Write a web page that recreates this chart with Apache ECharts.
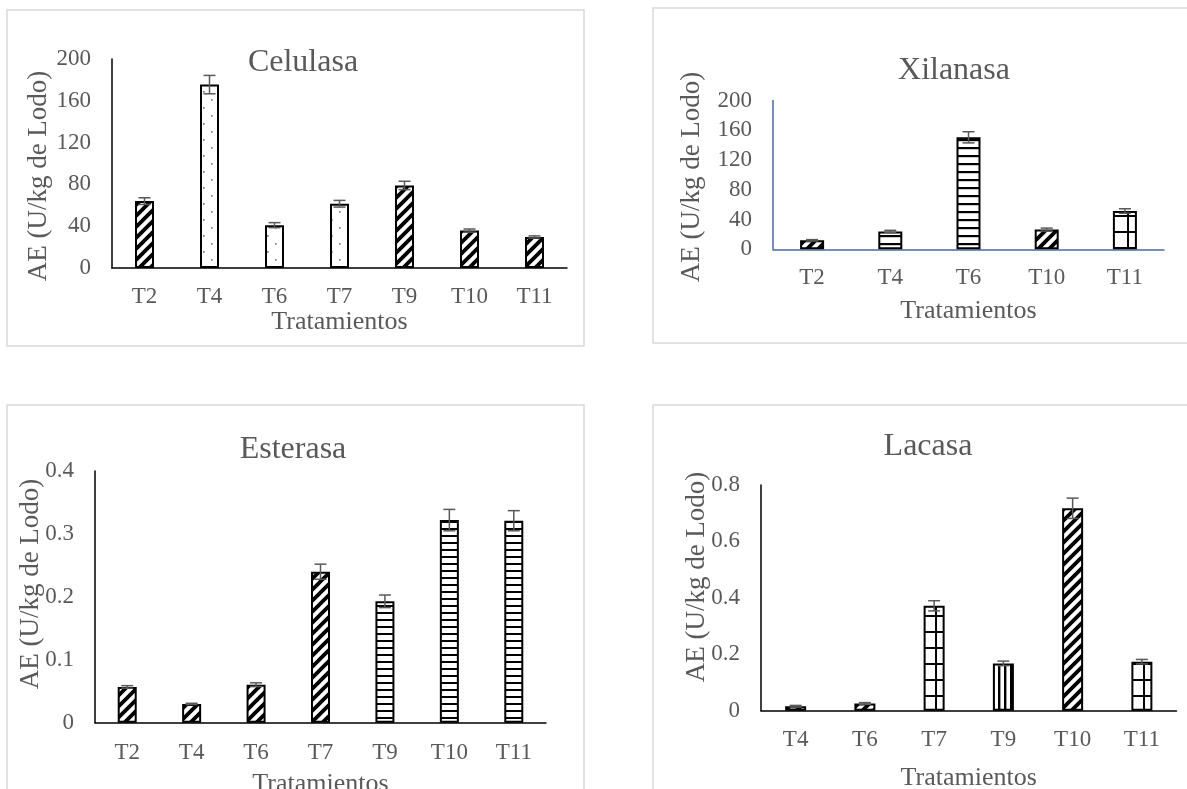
<!DOCTYPE html>
<html>
<head>
<meta charset="utf-8">
<script src="https://cdn.jsdelivr.net/npm/echarts@6/dist/echarts.min.js"></script>
<style>
  html, body { margin: 0; padding: 0; background: #ffffff; }
  #chart { width: 1187px; height: 789px; }
</style>
</head>
<body>
<div id="chart"></div>
<script>
// ---- Celulasa ----
const celCats = ['T2', 'T4', 'T6', 'T7', 'T9', 'T10', 'T11'];
const celVals = [64, 175.5, 41, 61.5, 79, 35.8, 29.7];
const celErr  = [3.2, 8.8, 2.4, 3.2, 4, 1.5, 1];
const celTicks = [0, 40, 80, 120, 160, 200];

// ---- Xilanasa ----
const xilCats = ['T2', 'T4', 'T6', 'T10', 'T11'];
const xilVals = [12, 24, 150.5, 26.5, 51.5];
const xilErr  = [1, 1.5, 7.5, 2, 3];
const xilTicks = [0, 40, 80, 120, 160, 200];

// ---- Esterasa ----
const estCats = ['T2', 'T4', 'T6', 'T7', 'T9', 'T10', 'T11'];
const estVals = [0.057, 0.030, 0.0605, 0.240, 0.193, 0.322, 0.321];
const estErr  = [0.002, 0.001, 0.003, 0.012, 0.010, 0.017, 0.016];
const estTicks = [0, 0.1, 0.2, 0.3, 0.4];

// ---- Lacasa ----
const lacCats = ['T4', 'T6', 'T7', 'T9', 'T10', 'T11'];
const lacVals = [0.016, 0.026, 0.372, 0.168, 0.7175, 0.174];
const lacErr  = [0.003, 0.003, 0.018, 0.008, 0.036, 0.008];
const lacTicks = [0, 0.2, 0.4, 0.6, 0.8];

// Fill style of each bar (pattern keys)
const celFills = ['diag', 'dots', 'dots', 'dots', 'diag', 'diag', 'diag'];
const xilFills = ['diag', 'hlines', 'hlines', 'diag', 'grid'];
const estFills = ['diag', 'diag', 'diag', 'diag', 'hlines7', 'hlines7', 'hlines7'];
const lacFills = ['diag', 'diag', 'grid', 'vlines', 'diag', 'grid'];

const FONT = "'Liberation Serif', 'Times New Roman', serif";
const TEXT = '#595959';

// ---- hatch patterns drawn on small tiles ----
function tile(w, h, draw) {
  const c = document.createElement('canvas');
  c.width = w; c.height = h;
  const ctx = c.getContext('2d');
  ctx.fillStyle = '#ffffff';
  ctx.fillRect(0, 0, w, h);
  draw(ctx, w, h);
  return { image: c, repeat: 'repeat' };
}
const patterns = {
  diag: tile(11, 11, (ctx, w, h) => {
    ctx.strokeStyle = '#000';
    ctx.lineWidth = 3.8;
    ctx.beginPath();
    for (let k = -1; k <= 1; k++) {
      ctx.moveTo(k * w - w * 0.3, h + h * 0.3);
      ctx.lineTo(k * w + w + w * 0.3, -h * 0.3);
    }
    ctx.stroke();
  }),
  dots: tile(16, 16, (ctx) => {
    ctx.fillStyle = '#7f7f7f';
    ctx.fillRect(3, 3, 1.7, 1.7);
    ctx.fillRect(11, 11, 1.7, 1.7);
  }),
  hlines: tile(8, 8, (ctx, w) => {
    ctx.fillStyle = '#000';
    ctx.fillRect(0, 3, w, 2.2);
  }),
  hlines7: tile(7, 7, (ctx, w) => {
    ctx.fillStyle = '#000';
    ctx.fillRect(0, 3, w, 2);
  }),
  vlines: tile(6, 6, (ctx, w, h) => {
    ctx.fillStyle = '#000';
    ctx.fillRect(2, 0, 2.4, h);
  }),
  grid: tile(16, 16, (ctx, w, h) => {
    ctx.fillStyle = '#000';
    ctx.fillRect(0, 7, w, 2);
    ctx.fillRect(7, 0, 2, h);
  })
};

// ---- panel layout ----
const panels = [
  { title: 'Celulasa', cats: celCats, vals: celVals, err: celErr, ticks: celTicks, fills: celFills,
    grid: { left: 112, top: 59, width: 455, height: 209 }, axisColor: '#000000', barWidth: 19,
    titlePos: [303, 63], yNamePos: [39, 176], labelMargin: 17, xNameGap: 38, box: [7, 10, 577, 336] },
  { title: 'Xilanasa', cats: xilCats, vals: xilVals, err: xilErr, ticks: xilTicks, fills: xilFills,
    grid: { left: 773, top: 100.5, width: 391, height: 148.8 }, axisColor: '#4a69a8', barWidth: 24,
    titlePos: [954, 71], yNamePos: [692, 177], labelMargin: 17, xNameGap: 49, box: [653, 8, 600, 335] },
  { title: 'Esterasa', cats: estCats, vals: estVals, err: estErr, ticks: estTicks, fills: estFills,
    grid: { left: 95, top: 471, width: 451, height: 251.8 }, axisColor: '#000000', barWidth: 19,
    titlePos: [293, 450], yNamePos: [31, 584], labelMargin: 19, xNameGap: 48, box: [7, 405, 577, 420] },
  { title: 'Lacasa', cats: lacCats, vals: lacVals, err: lacErr, ticks: lacTicks, fills: lacFills,
    grid: { left: 761, top: 485, width: 415.5, height: 225.8 }, axisColor: '#000000', barWidth: 21,
    titlePos: [928, 447], yNamePos: [697, 577], labelMargin: 18, xNameGap: 54, box: [653, 405, 600, 420] }
];

function renderErr(params, api) {
  const i = api.value(0), v = api.value(1), e = api.value(2);
  const hi = api.coord([i, v + e]);
  const lo = api.coord([i, v - e]);
  const cap = 6;
  const st = { stroke: '#595959', lineWidth: 1.5 };
  return {
    type: 'group',
    children: [
      { type: 'line', shape: { x1: hi[0], y1: hi[1], x2: lo[0], y2: lo[1] }, style: st },
      { type: 'line', shape: { x1: hi[0] - cap, y1: hi[1], x2: hi[0] + cap, y2: hi[1] }, style: st },
      { type: 'line', shape: { x1: lo[0] - cap, y1: lo[1], x2: lo[0] + cap, y2: lo[1] }, style: st }
    ]
  };
}

const grids = [], xAxes = [], yAxes = [], series = [], graphics = [];

panels.forEach((p, k) => {
  grids.push(Object.assign({ containLabel: false, outerBoundsMode: 'none' }, p.grid));
  xAxes.push({
    type: 'category', gridIndex: k, data: p.cats,
    axisLine: { show: true, lineStyle: { color: p.axisColor, width: 1.5 } },
    axisTick: { show: false },
    axisLabel: { color: TEXT, fontFamily: FONT, fontSize: 23, margin: p.labelMargin },
    name: 'Tratamientos', nameLocation: 'middle', nameGap: p.xNameGap,
    nameTextStyle: { color: TEXT, fontFamily: FONT, fontSize: 26 }
  });
  const t = p.ticks;
  yAxes.push({
    type: 'value', gridIndex: k,
    min: t[0], max: t[t.length - 1], interval: t[1] - t[0],
    axisLine: { show: true, lineStyle: { color: p.axisColor, width: 1.5 } },
    axisTick: { show: false },
    splitLine: { show: false },
    axisLabel: { color: TEXT, fontFamily: FONT, fontSize: 23, margin: 21,
      formatter: (v) => String(+v.toFixed(3)) }
  });
  series.push({
    type: 'bar', xAxisIndex: k, yAxisIndex: k, barWidth: p.barWidth,
    animation: false,
    data: p.vals.map((v, i) => ({
      value: v,
      itemStyle: { color: patterns[p.fills[i]], borderColor: '#000000', borderWidth: 2 }
    }))
  });
  series.push({
    type: 'custom', xAxisIndex: k, yAxisIndex: k, z: 5, animation: false,
    renderItem: renderErr,
    encode: { x: 0, y: 1 },
    data: p.vals.map((v, i) => [i, v, p.err[i]])
  });
  graphics.push({
    type: 'rect', silent: true, z: -1,
    shape: { x: p.box[0], y: p.box[1], width: p.box[2], height: p.box[3] },
    style: { fill: 'none', stroke: '#d9d9d9', lineWidth: 1.5 }
  });
  graphics.push({
    type: 'text', x: p.titlePos[0], y: p.titlePos[1],
    style: { text: p.title, fill: TEXT, font: '32px ' + FONT,
      align: 'center', verticalAlign: 'middle', textAlign: 'center', textVerticalAlign: 'middle' }
  });
  graphics.push({
    type: 'text', x: p.yNamePos[0], y: p.yNamePos[1], rotation: Math.PI / 2,
    style: { text: 'AE (U/kg de Lodo)', fill: TEXT, font: '27px ' + FONT,
      align: 'center', verticalAlign: 'middle', textAlign: 'center', textVerticalAlign: 'middle' }
  });
});

const chart = echarts.init(document.getElementById('chart'), null, { renderer: 'canvas' });
chart.setOption({
  backgroundColor: '#ffffff',
  animation: false,
  grid: grids,
  xAxis: xAxes,
  yAxis: yAxes,
  series: series,
  graphic: { elements: graphics }
});
</script>
</body>
</html>
